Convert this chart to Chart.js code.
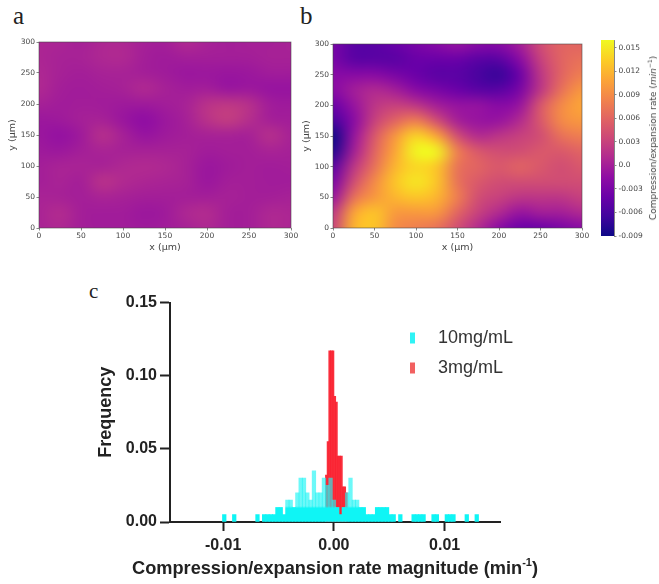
<!DOCTYPE html>
<html>
<head>
<meta charset="utf-8">
<title>Compression/expansion rate</title>
<script src="https://cdn.jsdelivr.net/npm/chart.js@4"></script>
<style>
  body { margin: 0; background: #fff; }
  #page { position: relative; width: 659px; height: 584px; overflow: hidden; }
  canvas { position: absolute; }
  .letter { position: absolute; font-family: "Liberation Serif", serif; color: #222; line-height: 1; }
  #cbLabel { position: absolute; left: 653px; top: 138px; transform: translate(-50%, -50%) rotate(-90deg);
    white-space: nowrap; font: 9px "DejaVu Sans", sans-serif; color: #444; }
  #cbLabel sup { font-size: 6px; line-height: 0; }
  #histTitle { position: absolute; left: 335px; top: 568px; transform: translate(-50%, -50%);
    white-space: nowrap; font: bold 18.2px "Liberation Sans", sans-serif; color: #222; }
  #histTitle sup { font-size: 11px; line-height: 0; }
</style>
</head>
<body>
<div id="page">
  <div class="letter" style="left:13px;top:3px;font-size:25px">a</div>
  <div class="letter" style="left:300px;top:3px;font-size:25px">b</div>
  <div class="letter" style="left:89px;top:281px;font-size:21px">c</div>
  <canvas id="mapA" width="310" height="240" style="left:0;top:30px"></canvas>
  <canvas id="mapB" width="300" height="240" style="left:294px;top:30px"></canvas>
  <canvas id="colorbar" width="62" height="215" style="left:590px;top:30px"></canvas>
  <div id="cbLabel">Compression/expansion rate (<i>min</i><sup>&minus;1</sup>)</div>
  <canvas id="hist" width="500" height="294" style="left:80px;top:290px"></canvas>
  <div id="histTitle">Compression/expansion rate magnitude (min<sup>-1</sup>)</div>
</div>
<script>
// grid positions for both maps, in um
const gridX = [0, 25, 50, 75, 100, 125, 150, 175, 200, 225, 250, 275, 300];
const gridY = [300, 275, 250, 225, 200, 175, 150, 125, 100, 75, 50, 25, 0];

// values, top row first
const mapAValues = [
    [0.0006, 0.0005, 0.0001, 0.0007, 0.0007, 0.0001, 0.0000, 0.0010, 0.0003, 0.0000, 0.0001, 0.0001, 0.0003],
    [0.0006, 0.0003, 0.0003, 0.0008, 0.0009, 0.0000, -0.0003, 0.0000, 0.0000, 0.0000, 0.0000, 0.0002, 0.0002],
    [0.0008, 0.0002, 0.0000, 0.0003, 0.0003, 0.0000, -0.0003, -0.0007, -0.0006, -0.0008, -0.0006, -0.0002, -0.0002],
    [0.0009, 0.0000, -0.0002, 0.0000, 0.0002, 0.0010, 0.0002, -0.0002, -0.0001, -0.0009, -0.0006, -0.0010, -0.0010],
    [0.0002, -0.0002, -0.0001, -0.0002, -0.0004, -0.0004, -0.0001, 0.0003, 0.0018, 0.0022, 0.0016, -0.0002, -0.0004],
    [-0.0006, -0.0004, 0.0001, 0.0002, -0.0008, -0.0016, -0.0006, 0.0001, 0.0018, 0.0028, 0.0014, 0.0000, -0.0001],
    [-0.0006, -0.0012, -0.0004, 0.0016, 0.0002, -0.0010, -0.0004, 0.0000, 0.0002, 0.0002, 0.0001, 0.0016, 0.0002],
    [-0.0004, -0.0006, 0.0000, 0.0004, 0.0002, 0.0002, 0.0002, 0.0002, -0.0002, 0.0000, 0.0000, 0.0004, 0.0001],
    [0.0000, 0.0004, 0.0004, 0.0002, 0.0008, 0.0010, 0.0008, 0.0002, -0.0007, -0.0003, 0.0000, -0.0002, 0.0000],
    [0.0000, 0.0004, 0.0000, 0.0018, 0.0010, 0.0006, 0.0004, 0.0002, -0.0007, 0.0000, 0.0000, -0.0002, -0.0002],
    [0.0004, 0.0002, 0.0000, 0.0004, 0.0002, 0.0000, 0.0000, 0.0000, 0.0000, 0.0002, 0.0000, 0.0000, 0.0002],
    [0.0004, 0.0012, 0.0000, -0.0002, -0.0002, -0.0006, -0.0004, 0.0008, 0.0012, 0.0000, 0.0000, 0.0008, 0.0006],
    [0.0004, 0.0008, 0.0000, -0.0002, -0.0002, -0.0004, -0.0002, 0.0002, 0.0008, 0.0000, 0.0000, 0.0008, 0.0006]
];

// values, top row first
const mapBValues = [
    [-0.003, -0.005, -0.005, -0.004, -0.003, -0.002, -0.001, -0.002, -0.002, 0.000, 0.004, 0.006, 0.006],
    [-0.003, -0.005, -0.005, -0.005, -0.004, -0.004, -0.004, -0.005, -0.005, -0.002, 0.003, 0.006, 0.007],
    [-0.002, -0.002, -0.002, -0.003, -0.004, -0.005, -0.005, -0.006, -0.007, -0.004, 0.002, 0.006, 0.008],
    [-0.002, 0.000, 0.001, 0.000, -0.002, -0.003, -0.004, -0.005, -0.005, -0.003, 0.002, 0.007, 0.010],
    [-0.004, -0.001, 0.002, 0.003, 0.002, 0.000, -0.001, -0.001, -0.002, -0.001, 0.005, 0.009, 0.011],
    [-0.006, -0.002, 0.003, 0.006, 0.008, 0.004, 0.000, -0.001, -0.001, 0.001, 0.005, 0.009, 0.010],
    [-0.009, -0.001, 0.005, 0.010, 0.014, 0.011, 0.004, 0.001, 0.002, 0.003, 0.004, 0.007, 0.008],
    [-0.008, 0.000, 0.006, 0.011, 0.016, 0.016, 0.008, 0.005, 0.004, 0.004, 0.005, 0.005, 0.006],
    [-0.005, 0.002, 0.007, 0.012, 0.014, 0.013, 0.007, 0.006, 0.005, 0.006, 0.005, 0.004, 0.005],
    [-0.003, 0.004, 0.009, 0.013, 0.015, 0.013, 0.007, 0.005, 0.004, 0.004, 0.004, 0.004, 0.004],
    [-0.001, 0.007, 0.010, 0.012, 0.013, 0.012, 0.008, 0.004, 0.003, 0.002, 0.002, 0.002, 0.003],
    [0.002, 0.011, 0.013, 0.010, 0.010, 0.010, 0.006, 0.003, 0.001, -0.001, 0.000, 0.000, 0.001],
    [0.003, 0.012, 0.013, 0.009, 0.008, 0.007, 0.004, 0.001, -0.002, -0.004, -0.004, -0.003, -0.002]
];

const colorbarTicks = [-0.009, -0.006, -0.003, 0, 0.003, 0.006, 0.009, 0.012, 0.015];
const colorbarRange = [-0.009, 0.016];

// histogram bins in panel c
const cyanBins = [-0.0099, -0.0090, -0.0069, -0.0063, -0.0060, -0.0057, -0.0054, -0.0051, -0.0048, -0.0045,
    -0.0042, -0.0039, -0.0036, -0.0033, -0.0030, -0.0027, -0.0024, -0.0021, -0.0018, -0.0015, -0.0012, -0.0009,
    -0.0006, -0.0003, 0.0000, 0.0003, 0.0006, 0.0009, 0.0012, 0.0015, 0.0018, 0.0021, 0.0024, 0.0027, 0.0030,
    0.0033, 0.0036, 0.0039, 0.0042, 0.0045, 0.0048, 0.0051, 0.0054, 0.0060, 0.0072, 0.0075, 0.0078, 0.0081,
    0.0090, 0.0093, 0.0102, 0.0105, 0.0108, 0.0120, 0.0129];
const cyanFreq = [0.005, 0.005, 0.005, 0.005, 0.005, 0.005, 0.005, 0.010, 0.010, 0.005,
    0.015, 0.015, 0.010, 0.020, 0.030, 0.030, 0.020, 0.015, 0.035, 0.020, 0.020, 0.030,
    0.025, 0.030, 0.015, 0.010, 0.005, 0.010, 0.020, 0.030, 0.015, 0.015, 0.010, 0.010, 0.005,
    0.005, 0.005, 0.010, 0.010, 0.010, 0.010, 0.005, 0.005, 0.005, 0.005, 0.005, 0.005, 0.005,
    0.005, 0.005, 0.005, 0.005, 0.005, 0.005, 0.005];
const redBins = [-0.00068, -0.00053, -0.00038, -0.00023, -0.00008, 0.00008, 0.00023, 0.00038, 0.00053, 0.00068,
    0.00083, 0.00098, 0.00113];
const redFreq = [0.032, 0.055, 0.117, 0.117, 0.117, 0.086, 0.082, 0.045, 0.045, 0.045, 0.024, 0.024, 0.020];
const histXTicks = [-0.01, 0, 0.01];
const histLabels = ['10mg/mL', '3mg/mL'];

const plasma = ['#0d0887', '#41049d', '#6a00a8', '#8f0da4', '#b12a90', '#cc4778', '#e16462', '#f2844b', '#fca636', '#fcce25', '#f0f921'];

function hexToRgb(hex) {
    return [1, 3, 5].map(i => parseInt(hex.substr(i, 2), 16));
}

function plasmaColor(v) {
    let t = (v - colorbarRange[0]) / (colorbarRange[1] - colorbarRange[0]);
    t = Math.min(1, Math.max(0, t)) * (plasma.length - 1);
    const i = Math.min(plasma.length - 2, Math.floor(t));
    const a = hexToRgb(plasma[i]), b = hexToRgb(plasma[i + 1]);
    return a.map((c, k) => Math.round(c + (b[k] - c) * (t - i)));
}

// paints the dataset cells on a small canvas and stretches it over the scales, smoothed
const heatmapPlugin = {
    id: 'heatmap',
    beforeDatasetsDraw(chart) {
        const { ctx, chartArea, scales } = chart;
        const cells = chart.data.datasets[0].data;
        const cols = gridX.length, rows = gridY.length;
        const small = document.createElement('canvas');
        small.width = cols;
        small.height = rows;
        const sctx = small.getContext('2d');
        const img = sctx.createImageData(cols, rows);
        cells.forEach((c, n) => {
            const rgb = plasmaColor(c.v);
            img.data.set([rgb[0], rgb[1], rgb[2], 255], n * 4);
        });
        sctx.putImageData(img, 0, 0);
        const left = scales.x.getPixelForValue(gridX[0] - 12.5);
        const right = scales.x.getPixelForValue(gridX[cols - 1] + 12.5);
        const top = scales.y.getPixelForValue(gridY[0] + 12.5);
        const bottom = scales.y.getPixelForValue(gridY[rows - 1] - 12.5);
        ctx.save();
        ctx.beginPath();
        ctx.rect(chartArea.left, chartArea.top, chartArea.width, chartArea.height);
        ctx.clip();
        ctx.imageSmoothingEnabled = true;
        ctx.imageSmoothingQuality = 'high';
        ctx.filter = 'blur(3px)';
        ctx.drawImage(small, left, top, right - left, bottom - top);
        ctx.restore();
        ctx.save();
        ctx.strokeStyle = 'rgba(70,70,70,0.7)';
        ctx.lineWidth = 0.8;
        ctx.strokeRect(chartArea.left, chartArea.top, chartArea.width, chartArea.height);
        ctx.restore();
    }
};

function makeMap(id, values, areaLeft, padRight, padTop) {
    const cells = [];
    gridY.forEach((y, r) => gridX.forEach((x, c) => cells.push({ x: x, y: y, v: values[r][c] })));
    const axisStyle = {
        type: 'linear',
        min: 0,
        max: 300,
        border: { display: false },
        grid: { drawOnChartArea: false, tickLength: 2.5, tickColor: '#555', tickWidth: 0.7 },
        ticks: { stepSize: 50, maxRotation: 0, padding: 1.5, color: '#444', font: { family: 'DejaVu Sans', size: 7.5 } }
    };
    return new Chart(document.getElementById(id), {
        type: 'scatter',
        data: { datasets: [{ data: cells, pointRadius: 0 }] },
        plugins: [heatmapPlugin],
        options: {
            responsive: false,
            animation: false,
            events: [],
            layout: { autoPadding: false, padding: { right: padRight, top: padTop } },
            plugins: { legend: { display: false }, tooltip: { enabled: false } },
            scales: {
                x: Object.assign({}, axisStyle, {
                    title: { display: true, text: 'x (\u03bcm)', color: '#444', padding: { top: 0, bottom: 17 }, font: { family: 'DejaVu Sans', size: 9.5 } },
                    afterFit: s => { s.height = 42; }
                }),
                y: Object.assign({}, axisStyle, {
                    title: { display: true, text: 'y (\u03bcm)', color: '#444', padding: { top: 7, bottom: 0 }, font: { family: 'DejaVu Sans', size: 9.5 } },
                    afterFit: s => { s.width = areaLeft; }
                })
            }
        }
    });
}

makeMap('mapA', mapAValues, 39, 19, 12);
makeMap('mapB', mapBValues, 39, 12, 14);

new Chart(document.getElementById('colorbar'), {
    type: 'bar',
    data: {
        labels: [''],
        datasets: [{
            data: [colorbarRange],
            barPercentage: 1,
            categoryPercentage: 1,
            backgroundColor(c) {
                const area = c.chart.chartArea;
                if (!area) return plasma[5];
                const g = c.chart.ctx.createLinearGradient(0, area.bottom, 0, area.top);
                plasma.forEach((col, i) => g.addColorStop(i / (plasma.length - 1), col));
                return g;
            }
        }]
    },
    options: {
        responsive: false,
        animation: false,
        events: [],
        layout: { autoPadding: false, padding: { left: 11, top: 10, bottom: 9 } },
        plugins: { legend: { display: false }, tooltip: { enabled: false } },
        scales: {
            x: { display: false },
            y: {
                position: 'right',
                min: colorbarRange[0],
                max: colorbarRange[1],
                border: { color: '#666', width: 0.8 },
                grid: { drawOnChartArea: false, tickLength: 2.5, tickColor: '#555', tickWidth: 0.7 },
                afterBuildTicks: s => { s.ticks = colorbarTicks.map(v => ({ value: v })); },
                afterFit: s => { s.width = 38; },
                ticks: {
                    padding: 2,
                    color: '#444',
                    font: { family: 'DejaVu Sans', size: 7.5 },
                    callback: v => (v === 0 ? '0.0' : v.toFixed(3))
                }
            }
        }
    }
});

function cyanFill(c) {
    const { chart } = c;
    const y = chart.scales.y;
    if (!chart.chartArea || !y) return 'rgba(20,245,245,1)';
    const g = chart.ctx.createLinearGradient(0, y.getPixelForValue(0), 0, y.getPixelForValue(0.035));
    g.addColorStop(0, 'rgba(15,245,245,1)');
    g.addColorStop(0.27, 'rgba(15,245,245,1)');
    g.addColorStop(0.31, 'rgba(30,245,245,0.65)');
    g.addColorStop(1, 'rgba(30,245,245,0.65)');
    return g;
}

const legendPlugin = {
    id: 'insideLegend',
    afterDraw(chart) {
        const { ctx } = chart;
        const swatches = ['#2ff3f5', '#f26060'];
        ctx.save();
        ctx.font = '18px "Liberation Sans"';
        ctx.textBaseline = 'middle';
        chart.data.datasets.forEach((ds, i) => {
            const y = 48 + i * 30;
            ctx.fillStyle = swatches[i];
            ctx.fillRect(330, y - 5.5, 5, 11);
            ctx.fillStyle = '#333';
            ctx.fillText(ds.label, 358, y);
        });
        ctx.restore();
    }
};

new Chart(document.getElementById('hist'), {
    type: 'bar',
    data: {
        datasets: [
            {
                label: histLabels[0],
                data: cyanBins.map((x, i) => ({ x: x, y: cyanFreq[i] })),
                grouped: false,
                barThickness: 3.6,
                backgroundColor: cyanFill
            },
            {
                label: histLabels[1],
                data: redBins.map((x, i) => ({ x: x, y: redFreq[i] })),
                grouped: false,
                barThickness: 1.9,
                backgroundColor: 'rgba(250,35,50,0.95)'
            }
        ]
    },
    plugins: [legendPlugin],
    options: {
        responsive: false,
        animation: false,
        events: [],
        layout: { autoPadding: false, padding: { top: 12, right: 80 } },
        plugins: { legend: { display: false }, tooltip: { enabled: false } },
        scales: {
            x: {
                type: 'linear',
                offset: false,
                min: -0.0148,
                max: 0.015,
                border: { color: '#222', width: 2 },
                grid: { offset: false, drawOnChartArea: false, tickLength: 9, tickColor: '#222', tickWidth: 2 },
                afterBuildTicks: s => { s.ticks = histXTicks.map(v => ({ value: v })); },
                afterFit: s => { s.height = 62; },
                ticks: {
                    maxRotation: 0,
                    padding: 5,
                    color: '#222',
                    font: { family: 'Liberation Sans', size: 16, weight: 'bold' },
                    callback: v => v.toFixed(2)
                }
            },
            y: {
                min: 0,
                max: 0.15,
                border: { color: '#222', width: 2 },
                grid: { drawOnChartArea: false, tickLength: 10, tickColor: '#222', tickWidth: 2 },
                afterFit: s => { s.width = 90; },
                ticks: {
                    stepSize: 0.05,
                    padding: 3,
                    color: '#222',
                    font: { family: 'Liberation Sans', size: 16, weight: 'bold' },
                    callback: v => v.toFixed(2)
                },
                title: {
                    display: true,
                    text: 'Frequency',
                    color: '#222',
                    padding: { top: 15, bottom: 0 },
                    font: { family: 'Liberation Sans', size: 18, weight: 'bold' }
                }
            }
        }
    }
});
</script>
</body>
</html>
